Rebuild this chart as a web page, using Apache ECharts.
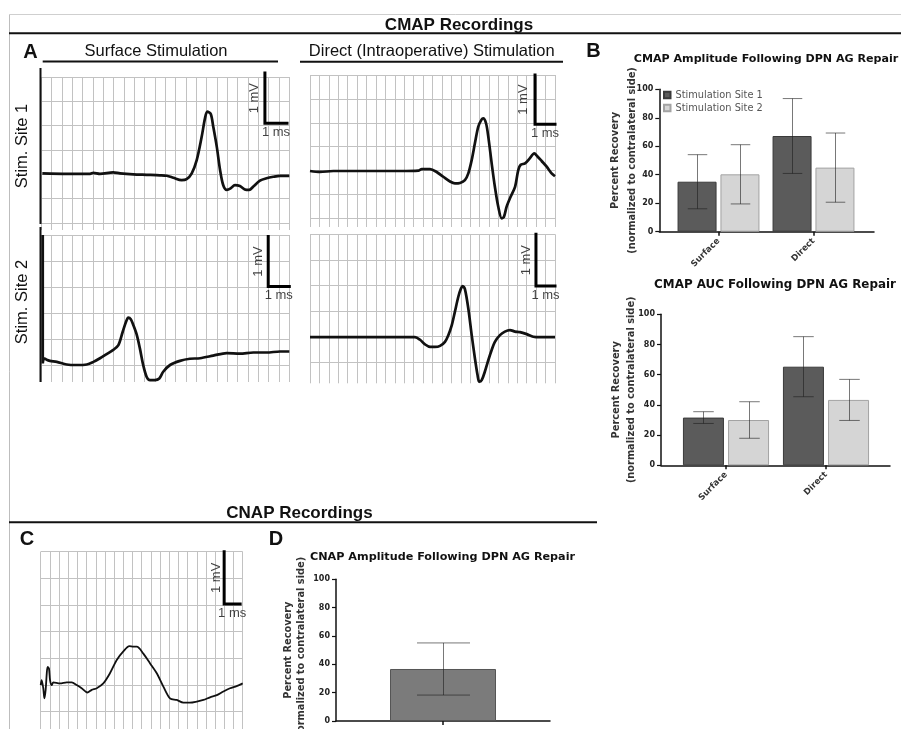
<!DOCTYPE html>
<html><head><meta charset="utf-8">
<style>html,body{margin:0;padding:0;background:#fff}#c{width:901px;height:729px}</style>
<script src="https://cdn.jsdelivr.net/npm/echarts@6/dist/echarts.min.js"></script>
</head><body><div id="c"></div>
<script>
// ---------- Trace data: [time (ms), amplitude (mV)] ----------
const surfaceSite1 = [[0.05,1.02],[1.23,1.01],[2.36,1.01],[2.52,1.03],[2.84,1.01],[3.48,1.04],[3.81,1.02],[4.45,1.0],[5.1,0.99],[5.74,0.98],[6.07,0.97],[6.39,0.93],[6.79,0.88],[7.03,0.9],[7.28,1.02],[7.52,1.29],[7.76,1.77],[7.92,2.15],[8.03,2.29],[8.2,2.24],[8.32,1.98],[8.49,1.57],[8.65,1.09],[8.8,0.78],[8.97,0.68],[9.16,0.71],[9.37,0.78],[9.61,0.76],[9.85,0.69],[10.06,0.68],[10.26,0.75],[10.58,0.87],[10.9,0.92],[11.22,0.95],[11.55,0.97],[12.0,0.97]];
const surfaceSite2 = [[0.07,2.5],[0.07,0.03],[0.13,0.13],[0.26,0.1],[0.42,0.08],[0.75,0.06],[1.23,0.01],[1.71,0.0],[2.2,0.01],[2.52,0.06],[2.84,0.13],[3.16,0.21],[3.48,0.29],[3.73,0.38],[3.94,0.64],[4.1,0.83],[4.21,0.91],[4.33,0.88],[4.45,0.77],[4.62,0.58],[4.77,0.32],[4.93,0.0],[5.1,-0.23],[5.26,-0.29],[5.5,-0.29],[5.71,-0.26],[5.9,-0.13],[6.23,0.0],[6.71,0.08],[7.19,0.12],[7.68,0.13],[8.32,0.18],[8.97,0.23],[9.61,0.22],[10.26,0.24],[10.9,0.24],[11.55,0.26],[12.0,0.26]];
const directSite1 = [[0,0.99],[0.53,0.97],[1.24,0.99],[3.01,0.99],[4.77,0.99],[5.75,1.0],[5.93,1.03],[6.37,1.03],[6.72,0.97],[7.07,0.87],[7.43,0.77],[7.69,0.73],[7.96,0.74],[8.22,0.8],[8.4,0.94],[8.58,1.22],[8.75,1.57],[8.93,1.92],[9.11,2.07],[9.19,2.09],[9.34,1.99],[9.46,1.71],[9.64,1.15],[9.81,0.66],[9.99,0.24],[10.17,0.0],[10.29,0.03],[10.43,0.24],[10.61,0.42],[10.88,0.66],[11.05,1.01],[11.18,1.12],[11.41,1.15],[11.67,1.26],[11.9,1.36],[12.06,1.3],[12.29,1.2],[12.56,1.08],[12.82,0.94],[13.0,0.88]];
const directSite2 = [[0,0.49],[1.24,0.49],[3.01,0.49],[4.77,0.49],[5.57,0.49],[5.84,0.44],[6.1,0.35],[6.37,0.3],[6.63,0.3],[6.9,0.32],[7.16,0.4],[7.34,0.53],[7.52,0.72],[7.69,0.99],[7.87,1.28],[8.01,1.44],[8.1,1.49],[8.22,1.43],[8.4,1.05],[8.58,0.53],[8.75,0.08],[8.89,-0.25],[8.98,-0.38],[9.11,-0.35],[9.28,-0.18],[9.46,0.04],[9.64,0.24],[9.81,0.4],[10.08,0.53],[10.34,0.6],[10.61,0.63],[10.88,0.6],[11.14,0.59],[11.5,0.55],[11.85,0.5],[12.2,0.49],[13.0,0.49]];
const cnapTrace = [[0,0.5],[0.05,0.59],[0.14,0.44],[0.2,0.25],[0.27,0.41],[0.33,0.72],[0.38,0.84],[0.45,0.81],[0.51,0.59],[0.6,0.5],[0.69,0.55],[1.05,0.53],[1.42,0.55],[1.69,0.55],[1.96,0.5],[2.23,0.44],[2.54,0.36],[2.78,0.41],[3.05,0.44],[3.41,0.53],[3.77,0.72],[4.14,0.97],[4.5,1.13],[4.83,1.23],[5.05,1.22],[5.23,1.22],[5.59,1.09],[5.95,0.91],[6.32,0.72],[6.68,0.47],[7.04,0.25],[7.41,0.22],[7.77,0.17],[8.13,0.17],[8.5,0.19],[8.86,0.22],[9.22,0.27],[9.59,0.31],[9.95,0.38],[10.31,0.44],[10.67,0.48],[11.0,0.53]];

// ---------- Scale bars: [top of 1 mV bar], [corner], [end of 1 ms bar] ----------
const scaleSS1 = [[10.82,3.08],[10.82,2.05],[11.89,2.05]];
const scaleSS2 = [[10.98,2.47],[10.98,1.51],[12.0,1.51]];
const scaleDS1 = [[11.94,3.0],[11.94,1.97],[13.0,1.97]];
const scaleDS2 = [[11.99,2.5],[11.99,1.49],[13.0,1.49]];
const scaleC   = [[9.99,3.0],[9.99,2.02],[10.86,2.02]];

// ---------- Bar chart data (percent recovery, mean and SD) ----------
const categories = ['Surface', 'Direct'];
const seriesNames = ['Stimulation Site 1', 'Stimulation Site 2'];
const ampSite1Mean = [35.1, 67.2];
const ampSite1Sd   = [19.0, 26.3];
const ampSite2Mean = [40.3, 45.0];
const ampSite2Sd   = [20.8, 24.3];
const aucSite1Mean = [31.6, 65.3];
const aucSite1Sd   = [3.9, 19.9];
const aucSite2Mean = [30.0, 43.3];
const aucSite2Sd   = [12.1, 13.6];
const cnapCategories = [''];
const cnapMean = [36.7];
const cnapSd   = [18.4];
const yTicks = [0, 20, 40, 60, 80, 100];

// ---------- Styling ----------
const FONT = '"Liberation Sans", Arial, Helvetica, sans-serif';
const WIDE = '"DejaVu Sans", Verdana, sans-serif';
const GRIDC = '#c2c2c2';
const INK = '#111';

const option = {animation:false, backgroundColor:'#fff', grid:[], xAxis:[], yAxis:[], series:[], graphic:[]};
const G = (o) => Object.assign({outerBoundsMode:'none', containLabel:false}, o);

// ---------- Trace panels ----------
const panels = [
  {data:surfaceSite1, scale:scaleSS1, left:41.3, top:77,    width:248, hH:146,   vH:153,   xMax:12, yMax:3,   lw:2.7, mvOff:10},
  {data:surfaceSite2, scale:scaleSS2, left:41.3, top:235,   width:248, hH:130,   vH:147,   xMax:12, yMax:2.5, lw:2.7, mvOff:10},
  {data:directSite1,  scale:scaleDS1, left:310,  top:75,    width:245, hH:143.3, vH:152,   xMax:13, yMax:3,   lw:2.7, mvOff:12},
  {data:directSite2,  scale:scaleDS2, left:310,  top:234.3, width:245, hH:128,   vH:149,   xMax:13, yMax:2.5, lw:2.7, mvOff:10},
  {data:cnapTrace,    scale:scaleC,   left:40.7, top:551.7, width:202, hH:160,   vH:180,   xMax:11, yMax:3,   lw:1.8, mvOff:8}
];
const hiddenAxis = (gi, extra) => Object.assign({gridIndex:gi, type:'value', show:false}, extra);
const splitOnly = (gi, extra) => Object.assign({gridIndex:gi, type:'value', axisLine:{show:false}, axisTick:{show:false}, axisLabel:{show:false}, splitLine:{show:true, lineStyle:{color:GRIDC, width:1}}}, extra);

panels.forEach((p) => {
  const gh = option.grid.length;      // horizontal grid lines
  option.grid.push(G({left:p.left, top:p.top, width:p.width, height:p.hH}));
  option.xAxis.push(hiddenAxis(gh, {min:0, max:p.xMax}));
  option.yAxis.push(splitOnly(gh, {min:0, max:p.yMax, interval:0.5}));
  const gv = option.grid.length;      // vertical grid lines, trace
  const yMin = -(p.vH - p.hH) / (p.hH / p.yMax);
  option.grid.push(G({left:p.left, top:p.top, width:p.width, height:p.vH}));
  option.xAxis.push(splitOnly(gv, {min:0, max:p.xMax, interval:0.5}));
  option.yAxis.push(hiddenAxis(gv, {min:yMin, max:p.yMax}));
  option.series.push({type:'line', xAxisIndex:gv, yAxisIndex:gv, data:p.data, smooth:0.3, symbol:'none', clip:false,
    lineStyle:{color:INK, width:p.lw}, z:3, silent:true});
  option.series.push({type:'line', xAxisIndex:gv, yAxisIndex:gv, data:p.scale, smooth:false, symbol:'none', clip:false,
    lineStyle:{color:'#000', width:3, cap:'square', join:'miter'}, z:4, silent:true});
  const s = p.scale;
  option.series.push({type:'scatter', xAxisIndex:gv, yAxisIndex:gv, symbolSize:0.01, itemStyle:{color:'rgba(0,0,0,0)'}, z:5, silent:true, clip:false,
    label:{show:true, position:'inside', color:'#111', fontFamily:FONT, fontSize:13},
    data:[
      {value:[s[0][0], (s[0][1]+s[1][1])/2], label:{formatter:'1 mV', rotate:90, offset:[0,-p.mvOff]}},
      {value:[(s[1][0]+s[2][0])/2, s[1][1]], label:{formatter:'1 ms', offset:[0,9]}}
    ]});
});

// ---------- Bar charts ----------
const axisNameStyle = (lh) => ({fontFamily:WIDE, fontWeight:'bold', fontSize:9.8, lineHeight:lh, color:'#333'});
function valueYAxis(gi, nameGap, lh) {
  return {gridIndex:gi, type:'value', min:yTicks[0], max:yTicks[yTicks.length-1], interval:yTicks[1]-yTicks[0],
    axisLine:{show:true, lineStyle:{color:INK, width:1.5}}, axisTick:{show:true, length:4, lineStyle:{color:INK, width:1.2}},
    axisLabel:{fontFamily:WIDE, fontWeight:'bold', fontSize:8, color:'#222', margin:6}, splitLine:{show:false},
    name:'Percent Recovery\n(normalized to contralateral side)', nameLocation:'middle', nameRotate:90, nameGap:nameGap,
    nameMoveOverlap:false, nameTextStyle:axisNameStyle(lh)};
}
function frameAxes(gi, nameGap, lh) {
  option.xAxis.push({gridIndex:gi, type:'value', min:0, max:1, axisLine:{show:true, onZero:false, lineStyle:{color:INK, width:1.5}}, axisTick:{show:false}, axisLabel:{show:false}, splitLine:{show:false}});
  option.yAxis.push(valueYAxis(gi, nameGap, lh));
}
function catAxes(gi, cats, showLine) {
  option.xAxis.push({gridIndex:gi, type:'category', data:cats, axisLine:{show:showLine, lineStyle:{color:INK, width:1.5}},
    axisTick:{show:true, alignWithLabel:true, length:4, lineStyle:{color:INK, width:1.5}},
    axisLabel:{show:cats[0] !== '', interval:0, rotate:45, fontFamily:WIDE, fontWeight:'bold', fontSize:8.5, color:'#333', margin:8}});
}
function errorSeries(gi, means, sds, offset, capHalf) {
  return {type:'custom', xAxisIndex:gi, yAxisIndex:gi, z:6, silent:true, clip:false,
    data: means.map((m, i) => [i, m - sds[i], m + sds[i]]),
    renderItem(params, api) {
      const lo = api.coord([api.value(0), api.value(1)]);
      const hi = api.coord([api.value(0), api.value(2)]);
      const x = Math.round(lo[0] + offset) + 0.5;
      const st = {stroke:'rgba(30,30,30,0.6)', lineWidth:1};
      return {type:'group', children:[
        {type:'line', shape:{x1:x, y1:lo[1], x2:x, y2:hi[1]}, style:st},
        {type:'line', shape:{x1:x-capHalf, y1:lo[1], x2:x+capHalf, y2:lo[1]}, style:st},
        {type:'line', shape:{x1:x-capHalf, y1:hi[1], x2:x+capHalf, y2:hi[1]}, style:st}
      ]};
    }};
}
const site1Style = {color:'#5b5b5b', borderColor:'#3a3a3a', borderWidth:1};
const site2Style = {color:'#d5d5d5', borderColor:'#a3a3a3', borderWidth:1};

function groupedBarChart(frame, bars, m1, s1, m2, s2, bw, nameGap, lh) {
  const gi = option.grid.length;
  option.grid.push(G(frame));
  frameAxes(gi, nameGap, lh);
  const gb = option.grid.length;
  option.grid.push(G(bars));
  catAxes(gb, categories, false);
  option.yAxis.push(hiddenAxis(gb, {min:yTicks[0], max:yTicks[yTicks.length-1]}));
  const off = bw/2 + bw*0.05;
  option.series.push({type:'bar', name:seriesNames[0], xAxisIndex:gb, yAxisIndex:gb, data:m1, barWidth:bw, barGap:'10%', itemStyle:site1Style, silent:true});
  option.series.push({type:'bar', name:seriesNames[1], xAxisIndex:gb, yAxisIndex:gb, data:m2, barWidth:bw, barGap:'10%', itemStyle:site2Style, silent:true});
  option.series.push(errorSeries(gb, m1, s1, -off, bw/4));
  option.series.push(errorSeries(gb, m2, s2, off, bw/4));
}
// B top: CMAP amplitude
groupedBarChart({left:659.3, top:89.3, width:214.7, height:142.4}, {left:671, top:89.3, width:190, height:142.4},
  ampSite1Mean, ampSite1Sd, ampSite2Mean, ampSite2Sd, 39, 19, 16.5);
// B bottom: CMAP AUC
groupedBarChart({left:661, top:314.3, width:229, height:151}, {left:676, top:314.3, width:200, height:151},
  aucSite1Mean, aucSite1Sd, aucSite2Mean, aucSite2Sd, 41, 22, 15);
// D: CNAP amplitude
{
  const gd = option.grid.length;
  option.grid.push(G({left:336, top:579.3, width:214, height:141.7}));
  catAxes(gd, cnapCategories, true);
  option.yAxis.push(valueYAxis(gd, 28, 13));
  option.series.push({type:'bar', name:'CNAP', xAxisIndex:gd, yAxisIndex:gd, data:cnapMean, barWidth:106, itemStyle:{color:'#7b7b7b', borderColor:'#555', borderWidth:1}, silent:true});
  option.series.push(errorSeries(gd, cnapMean, cnapSd, 0, 26.5));
}

option.legend = {data:seriesNames, orient:'vertical', left:663, top:88.5, padding:0, itemWidth:6.5, itemHeight:6.5, itemGap:0, icon:'rect',
  selectedMode:false, textStyle:{fontFamily:WIDE, fontSize:9.8, color:'#555', lineHeight:13}};

// ---------- Annotations (headings, panel letters, rules) ----------
const T = (text, x, y, font, rot) => ({type:'text', x:x, y:y, rotation:rot || 0, silent:true, z:10,
  style:{text:text, x:0, y:0, font:font, fill:'#111', align:'center', verticalAlign:'middle', textAlign:'center', textVerticalAlign:'middle'}});
const L = (x1, y1, x2, y2, w, c) => ({type:'line', silent:true, z:9, shape:{x1:x1, y1:y1, x2:x2, y2:y2}, style:{stroke:c || INK, lineWidth:w}});
const big = 'bold 17px ' + FONT, letter = 'bold 20px ' + FONT, sub = '16.5px ' + FONT;
option.graphic = [
  L(9.5, 14.5, 901, 14.5, 1, '#cfcfcf'),
  L(9.5, 14.5, 9.5, 729, 1, '#bdbdbd'),
  T('CMAP Recordings', 459, 25, big),
  L(9, 33.3, 901, 33.3, 2),
  T('A', 30.5, 52.5, letter),
  T('Surface Stimulation', 156, 51, sub),
  L(42.7, 61.5, 278, 61.5, 2),
  T('Direct (Intraoperative) Stimulation', 431.7, 51, sub),
  L(300, 61.7, 563, 61.7, 2),
  T('B', 593.5, 51.5, letter),
  T('Stim. Site 1', 22, 146, sub, Math.PI/2),
  T('Stim. Site 2', 22, 302, sub, Math.PI/2),
  L(40.5, 68, 40.5, 224, 2),
  L(40.5, 227, 40.5, 382, 2),
  T('CNAP Recordings', 299.5, 513, big),
  L(9, 522.3, 597, 522.3, 2),
  T('C', 27, 539, letter),
  T('D', 276, 539, letter),
  T('CMAP Amplitude Following DPN AG Repair', 766, 59, 'bold 11.1px ' + WIDE),
  T('CMAP AUC Following DPN AG Repair', 775, 285, 'bold 11.9px ' + WIDE),
  T('CNAP Amplitude Following DPN AG Repair', 442.5, 557, 'bold 11.2px ' + WIDE)
];

const chart = echarts.init(document.getElementById('c'), null, {renderer:'canvas', width:901, height:729});
chart.setOption(option);
</script></body></html>
